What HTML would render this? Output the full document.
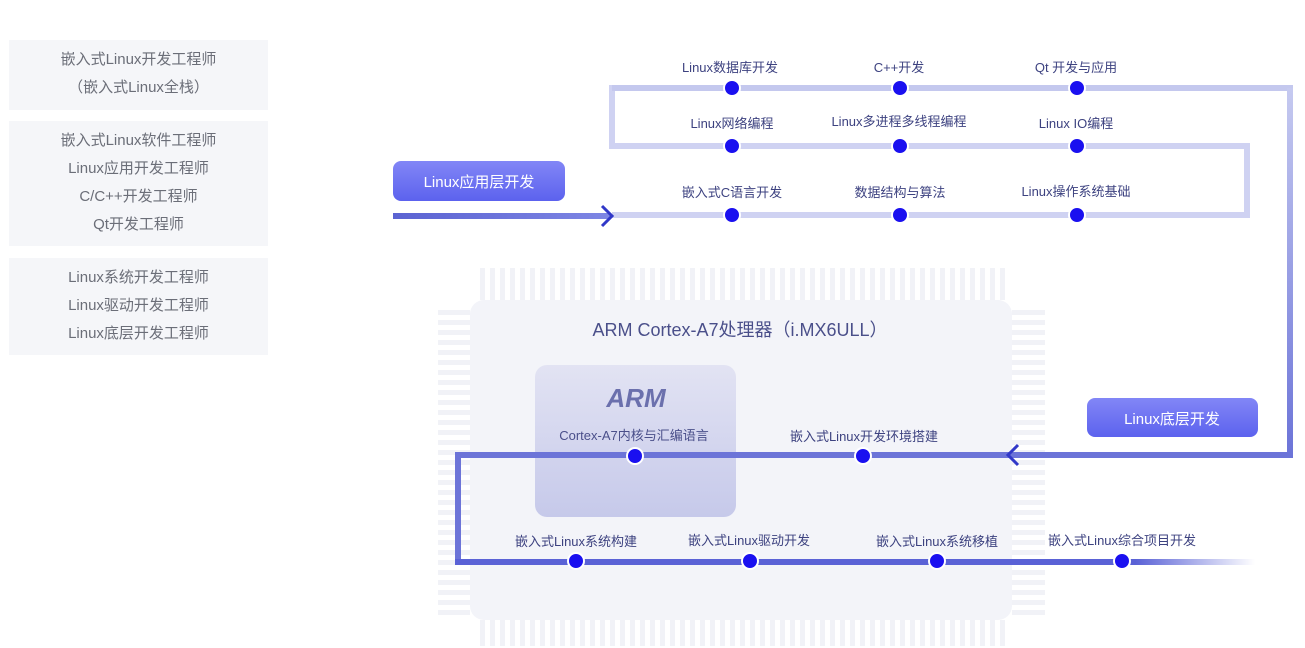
<!DOCTYPE html>
<html><head><meta charset="utf-8"><style>
body{margin:0;width:1305px;height:648px;background:#fff;overflow:hidden;position:relative;font-family:"Liberation Sans","Noto Sans CJK SC",sans-serif}
.box{position:absolute;left:9px;width:259px;background:#f5f6f9;color:#6b6e78;font-size:15px;text-align:center;line-height:28px;box-sizing:border-box}
svg{position:absolute;left:0;top:0}
</style></head><body>
<div class="box" style="top:40px;height:70px;padding-top:6px">嵌入式Linux开发工程师<br>（嵌入式Linux全栈）</div>
<div class="box" style="top:121px;height:125px;padding-top:6px">嵌入式Linux软件工程师<br>Linux应用开发工程师<br>C/C++开发工程师<br>Qt开发工程师</div>
<div class="box" style="top:258px;height:97px;padding-top:6px">Linux系统开发工程师<br>Linux驱动开发工程师<br>Linux底层开发工程师</div>
<svg width="1305" height="648" viewBox="0 0 1305 648" font-family="Liberation Sans, Noto Sans CJK SC, sans-serif">
<defs>
<linearGradient id="btn" x1="0" y1="0" x2="0" y2="1"><stop offset="0" stop-color="#8286f6"/><stop offset="1" stop-color="#5c62ee"/></linearGradient>
<linearGradient id="arm" x1="0" y1="0" x2="0" y2="1"><stop offset="0" stop-color="#e2e3f3"/><stop offset="1" stop-color="#c6c9ea"/></linearGradient>
<linearGradient id="fadeR" gradientUnits="userSpaceOnUse" x1="458" y1="0" x2="1255" y2="0"><stop offset="0.85" stop-color="#5a62d6"/><stop offset="1" stop-color="#5a62d6" stop-opacity="0"/></linearGradient>
<linearGradient id="inl" gradientUnits="userSpaceOnUse" x1="393" y1="0" x2="610" y2="0"><stop offset="0" stop-color="#5b63d2"/><stop offset="1" stop-color="#7e86e4"/></linearGradient>
<linearGradient id="vr" gradientUnits="userSpaceOnUse" x1="0" y1="88" x2="0" y2="455"><stop offset="0" stop-color="#c6caf0"/><stop offset="1" stop-color="#6c74d8"/></linearGradient>
<pattern id="pinv" width="10" height="10" patternUnits="userSpaceOnUse"><rect width="5" height="10" fill="#f1f2f7"/></pattern>
<pattern id="pinh" width="10" height="10" patternUnits="userSpaceOnUse"><rect width="10" height="5" fill="#f1f2f7"/></pattern>
</defs>
<rect x="480" y="268" width="530" height="32" fill="url(#pinv)"/>
<rect x="480" y="620" width="530" height="26" fill="url(#pinv)"/>
<rect x="438" y="310" width="32" height="310" fill="url(#pinh)"/>
<rect x="1012" y="310" width="33" height="310" fill="url(#pinh)"/>
<rect x="470" y="300" width="542" height="320" rx="14" fill="#f3f4f9"/>
<text x="740" y="336" text-anchor="middle" font-size="18" fill="#4a4f8a">ARM Cortex-A7处理器（i.MX6ULL）</text>
<rect x="535" y="365" width="201" height="152" rx="12" fill="url(#arm)"/>
<text x="636" y="407" text-anchor="middle" font-size="26" font-weight="bold" font-style="italic" fill="#6b70ad">ARM</text>
<text x="634" y="440" text-anchor="middle" font-size="13" fill="#4a4f8a">Cortex-A7内核与汇编语言</text>
<polyline points="1290,88 612,88 612,146 1247,146 1247,215 612,215" fill="none" stroke="#cfd2f2" stroke-width="6"/>
<line x1="612" y1="88" x2="1293" y2="88" stroke="#c4c8ee" stroke-width="6"/>
<line x1="1290" y1="88" x2="1290" y2="455" stroke="url(#vr)" stroke-width="6"/>
<rect x="393" y="213" width="217" height="6" fill="url(#inl)"/>
<polyline points="602,206 612,216 602,226" fill="none" stroke="#3138c8" stroke-width="3"/>
<polyline points="1293,455 458,455 458,562" fill="none" stroke="#6c74d8" stroke-width="6"/>
<rect x="455" y="559" width="800" height="6" fill="url(#fadeR)"/>
<polyline points="1018,445 1008,455 1018,465" fill="none" stroke="#3138c8" stroke-width="3"/>
<rect x="393" y="161" width="172" height="40" rx="8" fill="url(#btn)"/>
<text x="479" y="187" text-anchor="middle" font-size="15" fill="#fff">Linux应用层开发</text>
<rect x="1087" y="398" width="171" height="39" rx="8" fill="url(#btn)"/>
<text x="1172" y="424" text-anchor="middle" font-size="15" fill="#fff">Linux底层开发</text>
<g font-size="13" fill="#3d4280" text-anchor="middle">
<text x="730" y="72">Linux数据库开发</text><text x="899" y="72">C++开发</text><text x="1076" y="72">Qt 开发与应用</text>
<text x="732" y="128">Linux网络编程</text><text x="899" y="126">Linux多进程多线程编程</text><text x="1076" y="128">Linux IO编程</text>
<text x="732" y="197">嵌入式C语言开发</text><text x="900" y="197">数据结构与算法</text><text x="1076" y="196">Linux操作系统基础</text>
<text x="864" y="441">嵌入式Linux开发环境搭建</text>
<text x="576" y="546">嵌入式Linux系统构建</text><text x="749" y="545">嵌入式Linux驱动开发</text><text x="937" y="546">嵌入式Linux系统移植</text><text x="1122" y="545">嵌入式Linux综合项目开发</text>
</g>
<g fill="#1a10f0" stroke="#fff" stroke-width="2">
<circle cx="732" cy="88" r="8"/><circle cx="900" cy="88" r="8"/><circle cx="1077" cy="88" r="8"/>
<circle cx="732" cy="146" r="8"/><circle cx="900" cy="146" r="8"/><circle cx="1077" cy="146" r="8"/>
<circle cx="732" cy="215" r="8"/><circle cx="900" cy="215" r="8"/><circle cx="1077" cy="215" r="8"/>
<circle cx="635" cy="456" r="8"/><circle cx="863" cy="456" r="8"/>
<circle cx="576" cy="561" r="8"/><circle cx="750" cy="561" r="8"/><circle cx="937" cy="561" r="8"/><circle cx="1122" cy="561" r="8"/>
</g>
</svg>
</body></html>
